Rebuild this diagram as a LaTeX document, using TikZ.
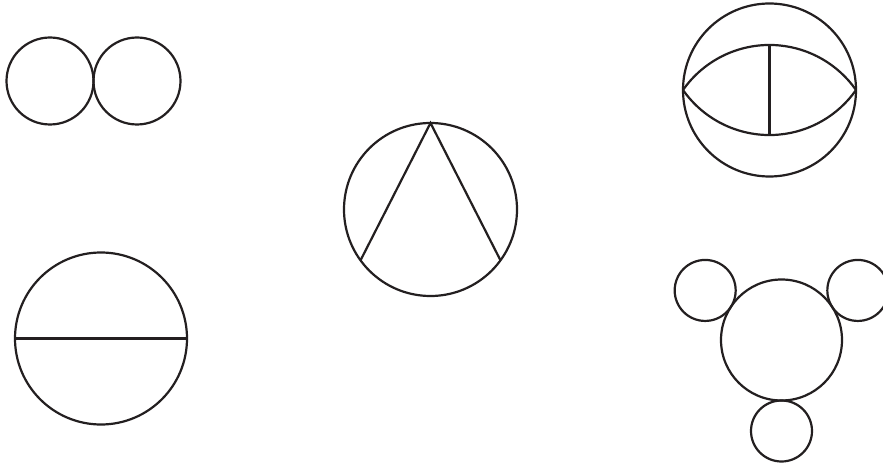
\documentclass[tikz,border=0pt]{standalone}
\usepackage{tikz}
\usepackage{xcolor}
\usetikzlibrary{calc}
\definecolor{InkBlack}{HTML}{231F20}

\begin{document}
\begin{tikzpicture}[x=1pt, y=1pt, ring/.style={draw=InkBlack, line width=2.2pt}]
    % Page frame
    \useasboundingbox (0,0) rectangle (883,464);

    % Two touching circles
    \coordinate (pairL) at (50,383);
    \coordinate (pairR) at (137,383);
    \draw[ring] (pairL) circle (43.5);
    \draw[ring] (pairR) circle (43.5);

    % Circle with lens and vertical chord
    \coordinate (lensC) at (769.5,374);
    \draw[ring] (lensC) circle (86.5);
    \coordinate (lensW) at (683,374);
    \coordinate (lensE) at (856,374);
    \draw[ring] (lensW) arc[start angle=145, end angle=35, radius=105.6];
    \draw[ring] (lensW) arc[start angle=215, end angle=325, radius=105.6];
    \draw[ring] ($(lensC)+(0,45)$) -- ($(lensC)+(0,-44)$);

    % Circle with inscribed angle
    \coordinate (apexC) at (430.5,254.5);
    \draw[ring] (apexC) circle (86.5);
    \coordinate (apexTop) at ($(apexC)+(90:86.5)$);
    \coordinate (apexL) at ($(apexC)+(216:86.5)$);
    \coordinate (apexR) at ($(apexC)+(324:86.5)$);
    \draw[ring, line join=miter] (apexL) -- (apexTop) -- (apexR);

    % Circle with diameter
    \coordinate (diamC) at (101,125.5);
    \draw[ring] (diamC) circle (86);
    \draw[ring] ($(diamC)+(180:86)$) -- ($(diamC)+(0:86)$);

    % Big circle with three small ones
    \coordinate (hubC) at (781.5,124);
    \draw[ring] (hubC) circle (60.5);
    \foreach \ang in {147,33,270}
        \draw[ring] ($(hubC)+(\ang:91)$) circle (30.5);
\end{tikzpicture}
\end{document}
